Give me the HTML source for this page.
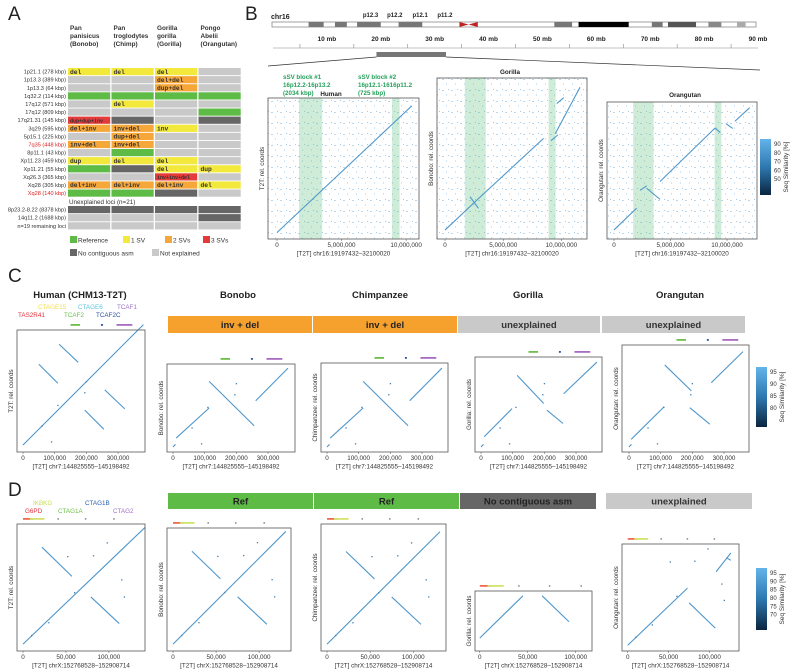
<!DOCTYPE html>
<html><head><meta charset="utf-8"><style>
html,body{margin:0;padding:0;background:#fff;}
svg{display:block;font-family:"Liberation Sans",sans-serif;}
</style></head><body>
<svg id="fig" width="800" height="670" viewBox="0 0 800 670">
<defs>
<linearGradient id="cbar" x1="0" y1="0" x2="0" y2="1"><stop offset="0" stop-color="#62b4ea"/><stop offset="0.5" stop-color="#2e78b0"/><stop offset="1" stop-color="#0b2540"/></linearGradient>
<pattern id="noise" width="9" height="11" patternUnits="userSpaceOnUse"><rect x="1" y="2" width="2" height="1" fill="#7fb6e0"/><rect x="5" y="6" width="1" height="2" fill="#a9d0ee"/><rect x="7" y="1" width="1" height="1" fill="#5a9fd4"/></pattern>
</defs>
</svg>
<script>
// ---------- data ----------
const aSpecies = ["Pan\npanisicus\n(Bonobo)","Pan\ntroglodytes\n(Chimp)","Gorilla\ngorilla\n(Gorilla)","Pongo\nAbelii\n(Orangutan)"];
const aLoci = ["1p21.1 (278 kbp)","1p13.3 (389 kbp)","1p13.3 (64 kbp)","1q32.2 (114 kbp)","17q12 (571 kbp)","17q12 (809 kbp)","17q21.31 (145 kbp)","3q29 (595 kbp)","5p15.1 (225 kbp)","7q35 (448 kbp)","8p11.1 (43 kbp)","Xp11.23 (459 kbp)","Xp11.21 (55 kbp)","Xq26.3 (365 kbp)","Xq28 (305 kbp)","Xq28 (140 kbp)"];
const aRedLoci = [9,15];
const aStatus = [["Y","Y","Y","N"],["N","N","O","N"],["N","N","O","N"],["G","G","G","G"],["N","Y","N","N"],["N","N","N","G"],["R","D","N","D"],["O","O","Y","N"],["N","O","N","N"],["O","O","N","N"],["N","G","N","N"],["Y","Y","Y","N"],["G","D","Y","Y"],["N","N","R","N"],["O","O","O","Y"],["G","G","D","N"]];
const aEvents = [["del","del","del",""],["","","del+del",""],["","","dup+del",""],["","","",""],["","del","",""],["","","",""],["dup+dup+inv","","",""],["del+inv","inv+del","inv",""],["","dup+del","",""],["inv+del","inv+del","",""],["","","",""],["dup","del","del",""],["","","del","dup"],["","","inv+inv+del",""],["del+inv","del+inv","del+inv","del"],["","","",""]];
const aUnexLoci = ["8p23.2-8.22 (8378 kbp)","14q11.2 (1688 kbp)","n=19 remaining loci"];
const aUnexStatus = [["D","D","D","D"],["N","N","N","D"],["N","N","N","N"]];
const statusColors = {G:"#5dbb46",Y:"#f3e93c",O:"#f6a73a",R:"#e53a3a",D:"#666666",N:"#c9c9c9"};

const chrTicksMb = [10,20,30,40,50,60,70,80,90];
const chrBands = [[6.6,9.4,"#777"],[11.5,13.7,"#777"],[15.6,20.0,"#777"],[23.3,27.7,"#777"],[52.2,55.5,"#777"],[56.7,66.0,"#000"],[70.3,72.3,"#777"],[73.3,78.5,"#555"],[80.8,83.2,"#888"],[86.1,87.7,"#aaa"]];
const chrBandLabels = ["p12.3","p12.2","p12.1","p11.2"];
const chrBandLabelMb = [18.1,22.6,27.3,31.9];

// Panel B segments (Mb): [x1,y1,x2,y2]
const bHumanSegs = [[0,-0.2,10.45,9.6]];
const bGorillaSegs = [[0,0,2.73,2.58],[2.73,2.58,8.47,7.9],[2.15,2.87,2.87,1.87],[9.1,7.7,9.7,8.2],[9.47,8.3,11.6,12.3],[9.6,10.9,10.2,11.4]];
const bOrangSegs = [[0,0,2.0,1.92],[2.3,3.5,2.9,3.9],[2.9,3.67,4.07,2.7],[4.07,4.28,8.94,9.0],[8.94,9.0,9.4,8.6],[9.9,9.4,10.5,8.96],[10.7,9.6,12.0,10.8]];
const bShadeMb = [[1.7,3.5],[8.9,9.5]];
const bXTicks = [0,5,10];
const bXTickLabels = ["0","5,000,000","10,000,000"];

// Panel C segments (kbp)
const cHumanSegs = [[0,0,380,380],[50,255,110,195],[114,318,174,261],[195,110,255,50],[258,174,321,114]];
const cBonoboSegs = [[0,0,8,8],[10,28,114,123],[114,207,256,67],[261,146,363,249]];
const cChimpSegs = [[0,0,8,8],[10,28,114,123],[114,207,256,67],[261,146,363,249]];
const cGorillaSegs = [[0,0,8,8],[10,32,98,121],[114,226,198,137],[208,116,259,74],[261,168,366,268]];
const cOrangSegs = [[0,0,8,8],[7,24,111,127],[113,259,197,177],[192,124,255,72],[260,203,360,301]];
const cPoints = [[200,200],[110,125],[195,165],[90,10],[60,60]];
const cXTicks = [0,100,200,300];
const cXTickLabels = ["0","100,000","200,000","300,000"];
const cGeneBars = [[150,180,"#6cc04a"],[246,252,"#2b4ea3"],[295,345,"#a86cc1"]];

// Panel D segments (kbp)
const dHumanSegs = [[0,0,142,136],[22,113,57,79],[79,55,112,24]];
const dBonoboSegs = [[0,0,131,131],[22,108,55,76],[75,55,109,23]];
const dChimpSegs = [[0,0,131,131],[22,108,55,76],[75,55,109,23]];
const dGorillaSegs = [[0,0,45,44],[65,44,93,17]];
const dOrangSegs = [[0,0,73,70],[75,52,107,21],[108,90,126,113],[121,107,126,104]];
const dPoints = [[52,102],[82,103],[115,75],[118,55],[30,25],[60,60],[10,10],[98,118]];
const dXTicks = [0,50,100];
const dXTickLabels = ["0","50,000","100,000"];
const dGeneBars = [[0,12,"#ef6b4f"],[8,25,"#d3e36c"],[40,41,"#999"],[72,73,"#999"],[105,106,"#999"]];

// ---------- helpers ----------
const NS = "http://www.w3.org/2000/svg";
const svg = document.getElementById("fig");
function mk(tag, attrs, parent){ const e=document.createElementNS(NS,tag); for(const k in attrs) e.setAttribute(k,attrs[k]); (parent||svg).appendChild(e); return e; }
function txt(x,y,s,size,opts,parent){ const o=Object.assign({x:x,y:y,"font-size":size,fill:"#222"},opts||{}); const e=mk("text",o,parent); e.textContent=s; return e; }
function scale(d0,d1,r0,r1){ return v=>r0+(v-d0)/(d1-d0)*(r1-r0); }

// ---------- panel letters ----------
[["A",8,20],["B",245,20],["C",8,282],["D",8,496]].forEach(p=>{
  const t=txt(p[1],p[2],p[0],19,{fill:"#222"});
  
  
});

// ---------- Panel A ----------
const colX=[68,111.5,155,198.5], colW=43, rowH=8.1, row0=68;
aSpecies.forEach((s,i)=>{
  s.split("\n").forEach((ln,j)=>{
    const t=txt(colX[i]+2,30+j*8,ln,6.4,{fill:"#333","font-weight":"bold"});
    
    
  });
});
function drawRow(y,label,status,events,red){
  const l=txt(66,y+5.6,label,5.6,{"text-anchor":"end",fill:red?"#e02020":"#333"});
  
  
  status.forEach((st,i)=>{
    const r=mk("rect",{x:colX[i],y:y,width:colW-0.8,height:rowH-0.9,fill:statusColors[st]});
    
    
    if(events && events[i]){
      const t=txt(colX[i]+2,y+5.8,events[i],events[i].length>8?5:6.3,{"font-family":"Liberation Mono,monospace","font-weight":"bold",fill:"#333"});
      
      
    }
  });
}
aLoci.forEach((l,i)=>drawRow(row0+i*rowH,l,aStatus[i],aEvents[i],aRedLoci.includes(i)));
const ul=txt(69,204,"Unexplained loci (n=21)",6.3,{fill:"#333"});


aUnexLoci.forEach((l,i)=>drawRow(206+i*rowH,l,aUnexStatus[i],null,false));
const legA=[["G","Reference",70,236],["Y","1 SV",123,236],["O","2 SVs",165,236],["R","3 SVs",203,236],["D","No contiguous asm",70,249],["N","Not explained",152,249]];
legA.forEach(g=>{
  const r=mk("rect",{x:g[2],y:g[3],width:7,height:7,fill:statusColors[g[0]]});
  
  
  const t=txt(g[2]+8,g[3]+6.5,g[1],6.5,{fill:"#333"});
  
  
});

// ---------- Panel B: chromosome ----------
const mb=scale(0,90,273,758);
const chrL=txt(271,19,"chr16",7,{"font-weight":"bold"});


const chr=mk("rect",{x:272,y:22,width:484,height:5,fill:"#fff",stroke:"#666","stroke-width":0.6});


chrBands.forEach(b=>{
  const r=mk("rect",{x:mb(b[0]),y:22,width:mb(b[1])-mb(b[0]),height:5,fill:b[2]});
  
  
});
const cen=mk("path",{d:`M${mb(34.6)},22 L${mb(36.3)},24.5 L${mb(34.6)},27 Z M${mb(38)},22 L${mb(36.3)},24.5 L${mb(38)},27 Z`,fill:"#c02020"});


chrBandLabels.forEach((s,i)=>{
  const t=txt(mb(chrBandLabelMb[i]),17,s,6,{"text-anchor":"middle","font-weight":"bold"});
  
  
});
const ax=mk("line",{x1:273,y1:48,x2:758,y2:48,stroke:"#888","stroke-width":0.6});


chrTicksMb.forEach(m=>{
  const t=txt(mb(m),41,m+" mb",6.5,{"text-anchor":"middle","font-weight":"bold"});
  
  
  [m-5].forEach(v=>{
    const tk=mk("line",{x1:mb(v),y1:44,x2:mb(v),y2:48,stroke:"#888","stroke-width":0.6});
    
    
  });
});
const zb=mk("rect",{x:mb(19.2),y:52,width:mb(32.1)-mb(19.2),height:5,fill:"#777"});


const zl=mk("path",{d:`M${mb(19.2)},57 L268,66 M${mb(32.1)},57 L760,70`,stroke:"#333","stroke-width":0.7,fill:"none"});



// ---------- generic dot plot ----------
function dotplot(o){
  const g=mk("g",{});
  
  
  const sx=scale(o.xd[0],o.xd[1],o.x,o.x+o.w), sy=scale(o.yd[0],o.yd[1],o.y+o.h,o.y);
  const bg=mk("rect",{x:o.x,y:o.y,width:o.w,height:o.h,fill:o.noise?"url(#noise)":"#fff"},g);
  
  
  if(o.noise){ bg.setAttribute('opacity','0.55'); }
  (o.shade||[]).forEach(s=>{
    const r=mk("rect",{x:sx(s[0]),y:o.y,width:sx(s[1])-sx(s[0]),height:o.h,fill:"#5cbf7a",opacity:0.3},g);
    
    
  });
  o.segs.forEach(s=>{
    const l=mk("line",{x1:sx(s[0]),y1:sy(s[1]),x2:sx(s[2]),y2:sy(s[3]),stroke:"#4f97cc","stroke-width":1.1},g);
    
    
  });
  (o.pts||[]).forEach(p=>{
    const c=mk("rect",{x:sx(p[0])-0.6,y:sy(p[1])-0.6,width:1.3,height:1.3,fill:"#3f7fb3"},g);
    
    
  });
  const fr=mk("rect",{x:o.x,y:o.y,width:o.w,height:o.h,fill:"none",stroke:"#555","stroke-width":0.8},g);
  
  
  o.xt.forEach((v,i)=>{
    const tk=mk("line",{x1:sx(v),y1:o.y+o.h,x2:sx(v),y2:o.y+o.h+2,stroke:"#555","stroke-width":0.5},g);
    
    
    const t=txt(sx(v),o.y+o.h+8,o.xl[i],6.3,{"text-anchor":"middle",fill:"#333"},g);
    
    
  });
  const xt=txt(o.x+o.w/2,o.y+o.h+16.5,o.xtitle,6.3,{"text-anchor":"middle",fill:"#333"},g);
  
  
  const yx=o.x-4, yy=o.y+o.h/2;
  const yt=txt(yx,yy,o.ytitle,6.3,{"text-anchor":"middle",fill:"#333",transform:`rotate(-90 ${yx} ${yy})`},g);
  
  
  (o.genes||[]).forEach(gb=>{
    const r=mk("rect",{x:sx(gb[0]),y:o.y-6,width:Math.max(1.5,sx(gb[1])-sx(gb[0])),height:1.8,fill:gb[2]},g);
    
    
  });
  return {sx,sy};
}
function colorbar(x,y,h,labels){
  const r=mk("rect",{x:x,y:y,width:11,height:h,fill:"url(#cbar)"});
  
  
  labels.forEach((l,i)=>{
    const t=txt(x+14,y+7+i*(h-12)/(labels.length),l,6,{fill:"#333"});
    
    
  });
  const tx=x+28, ty=y+h/2;
  const t=txt(tx,ty,"Seq Similarity [%]",6.5,{"text-anchor":"middle",fill:"#333",transform:`rotate(-90 ${tx} ${ty})`});
  
  
}

// ---------- Panel B plots ----------
const bT="[T2T] chr16:19197432\u201332100020";
dotplot({name:"dotplot-b-human",x:268,y:98,w:151,h:141,xd:[-0.7,11.0],yd:[-0.7,10.2],segs:bHumanSegs,shade:bShadeMb,noise:true,xt:bXTicks,xl:bXTickLabels,xtitle:bT,ytitle:"T2T: rel. coords"});
dotplot({name:"dotplot-b-gorilla",x:437,y:78,w:150,h:161,xd:[-0.69,12.2],yd:[-0.77,13.1],segs:bGorillaSegs,shade:bShadeMb,noise:true,xt:bXTicks,xl:bXTickLabels,xtitle:bT,ytitle:"Bonobo: rel. coords"});
dotplot({name:"dotplot-b-orangutan",x:607,y:102,w:150,h:137,xd:[-0.62,12.65],yd:[-0.8,11.3],segs:bOrangSegs,shade:bShadeMb,noise:true,xt:bXTicks,xl:bXTickLabels,xtitle:bT,ytitle:"Orangutan: rel. coords"});
[["Gorilla",510,74],["Orangutan",685,97],["Human",331,96]].forEach(s=>{
  const t=txt(s[1],s[2],s[0],6.3,{"text-anchor":"middle","font-weight":"bold"});
  
  
});
[["sSV block #1",283,79],["16p12.2-16p13.2",283,87],["(2034 kbp)",283,95],["sSV block #2",358,79],["16p12.1-1616p11.2",358,87],["(725 kbp)",358,95]].forEach(s=>{
  const t=txt(s[1],s[2],s[0],6.2,{fill:"#23a05a","font-weight":"bold"});
  
  
});
colorbar(760,139,56,["90","80","70","60","50"]);

// ---------- Panel C ----------
[["Human (CHM13-T2T)",80,298],["Bonobo",238,298],["Chimpanzee",380,298],["Gorilla",528,298],["Orangutan",680,298]].forEach(s=>{
  const t=txt(s[1],s[2],s[0],9.5,{"text-anchor":"middle","font-weight":"bold"});
  
  
});
function banner(x,w,y,h,fill,label,color){
  const r=mk("rect",{x:x,y:y,width:w,height:h,fill:fill});
  
  
  const t=txt(x+w/2,y+h/2+3.5,label,9.5,{"text-anchor":"middle","font-weight":"bold",fill:color});
  
  
}
banner(168,144,316,17,"#f6a12e","inv + del","#222");
banner(313,144,316,17,"#f6a12e","inv + del","#222");
banner(458,142,316,17,"#c9c9c9","unexplained","#333");
banner(602,143,316,17,"#c9c9c9","unexplained","#333");
[["CTAGE15",38,309,"#f2de4a"],["CTAGE6",78,309,"#5ec4e0"],["TCAF1",117,309,"#a070c8"],["TAS2R41",18,317,"#e0303a"],["TCAF2",64,317,"#6cc04a"],["TCAF2C",96,317,"#2b4ea3"]].forEach(s=>{
  const t=txt(s[1],s[2],s[0],6.3,{fill:s[3]});
  
  
});
const cT="[T2T] chr7:144825555\u2013145198492";
dotplot({name:"dotplot-c-human",x:17,y:330,w:128,h:122,xd:[-19,385],yd:[-22,363],segs:cHumanSegs,pts:cPoints,xt:cXTicks,xl:cXTickLabels,xtitle:cT,ytitle:"T2T: rel. coords",genes:cGeneBars});
dotplot({name:"dotplot-c-bonobo",x:167,y:364,w:128,h:88,xd:[-19,385],yd:[-16,262],segs:cBonoboSegs,pts:cPoints,xt:cXTicks,xl:cXTickLabels,xtitle:cT,ytitle:"Bonobo: rel. coords",genes:cGeneBars});
dotplot({name:"dotplot-c-chimpanzee",x:321,y:363,w:127,h:89,xd:[-19,382],yd:[-16,265],segs:cChimpSegs,pts:cPoints,xt:cXTicks,xl:cXTickLabels,xtitle:cT,ytitle:"Chimpanzee: rel. coords",genes:cGeneBars});
dotplot({name:"dotplot-c-gorilla",x:475,y:357,w:127,h:95,xd:[-19,382],yd:[-16,284],segs:cGorillaSegs,pts:cPoints,xt:cXTicks,xl:cXTickLabels,xtitle:cT,ytitle:"Gorilla: rel. coords",genes:cGeneBars});
dotplot({name:"dotplot-c-orangutan",x:622,y:345,w:127,h:107,xd:[-22,379],yd:[-16,322],segs:cOrangSegs,pts:cPoints,xt:cXTicks,xl:cXTickLabels,xtitle:cT,ytitle:"Orangutan: rel. coords",genes:cGeneBars});
colorbar(756,367,60,["95","90","85","80"]);

// ---------- Panel D ----------
banner(168,145,493,16,"#5dbb46","Ref","#222");
banner(314,145,493,16,"#5dbb46","Ref","#222");
banner(460,136,493,16,"#666666","No contiguous asm","#222");
banner(606,146,493,16,"#c9c9c9","unexplained","#333");
[["IKBKG",33,505,"#c8dc4a"],["CTAG1B",85,505,"#2b60b0"],["G6PD",25,513,"#e0303a"],["CTAG1A",58,513,"#6cc04a"],["CTAG2",113,513,"#a070c8"]].forEach(s=>{
  const t=txt(s[1],s[2],s[0],6.3,{fill:s[3]});
  
  
});
const dT="[T2T] chrX:152768528\u2013152908714";
dotplot({name:"dotplot-d-human",x:17,y:524,w:128,h:127,xd:[-7,142],yd:[-8,140],segs:dHumanSegs,pts:dPoints,xt:dXTicks,xl:dXTickLabels,xtitle:dT,ytitle:"T2T: rel. coords",genes:dGeneBars});
dotplot({name:"dotplot-d-bonobo",x:167,y:528,w:124,h:123,xd:[-7,137],yd:[-8,135],segs:dBonoboSegs,pts:dPoints,xt:dXTicks,xl:dXTickLabels,xtitle:dT,ytitle:"Bonobo: rel. coords",genes:dGeneBars});
dotplot({name:"dotplot-d-chimpanzee",x:321,y:524,w:125,h:127,xd:[-7,138],yd:[-8,140],segs:dChimpSegs,pts:dPoints,xt:dXTicks,xl:dXTickLabels,xtitle:dT,ytitle:"Chimpanzee: rel. coords",genes:dGeneBars});
dotplot({name:"dotplot-d-gorilla",x:475,y:591,w:117,h:60,xd:[-5,117],yd:[-13.5,49],segs:dGorillaSegs,xt:dXTicks,xl:dXTickLabels,xtitle:dT,ytitle:"Gorilla: rel. coords",genes:dGeneBars});
dotplot({name:"dotplot-d-orangutan",x:622,y:544,w:117,h:107,xd:[-7,136],yd:[-7,124],segs:dOrangSegs,pts:dPoints,xt:dXTicks,xl:dXTickLabels,xtitle:dT,ytitle:"Orangutan: rel. coords",genes:dGeneBars});
colorbar(756,568,62,["95","90","85","80","75","70"]);
</script>
</body></html>
